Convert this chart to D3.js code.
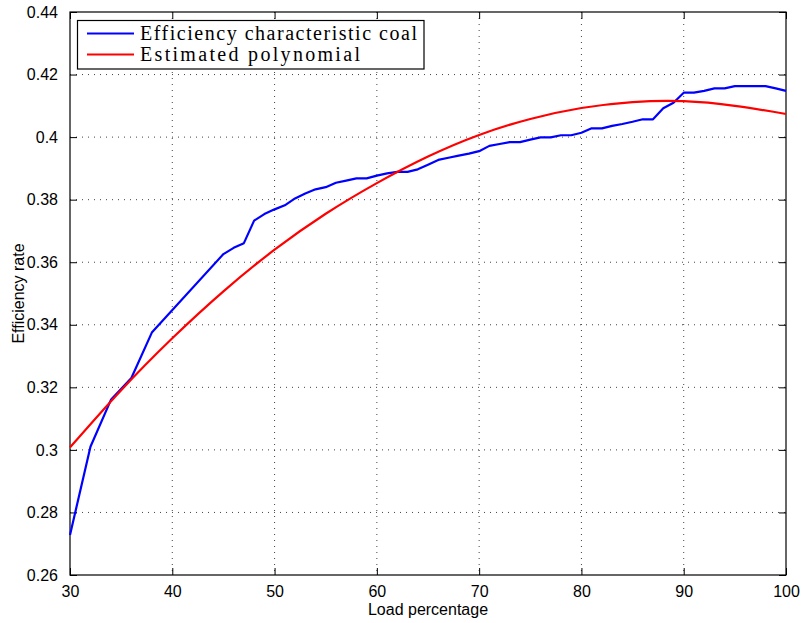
<!DOCTYPE html>
<html>
<head>
<meta charset="utf-8">
<script src="https://cdn.jsdelivr.net/npm/d3@7"></script>
<style>
  html, body { margin: 0; padding: 0; background: #fff; }
  svg { display: block; }
</style>
</head>
<body>
<svg id="chart" width="802" height="623"></svg>
<script>
// ---- Data ----
const loadBlue = [30,32,34,36,38,45,46,47,48,49,50,51,52,53,54,55,56,57,58,59,60,61,62,63,64,65,66,67,68,69,70,71,72,73,74,75,76,77,78,79,80,81,82,83,84,85,86,87,88,89,90,91,92,93,94,95,96,97,98,99,100];
const effBlue = [0.2728,0.3010,0.3160,0.3230,0.3375,0.3626,0.3646,0.3661,0.3733,0.3754,0.3769,0.3782,0.3804,0.3820,0.3833,0.3840,0.3854,0.3861,0.3868,0.3868,0.3877,0.3884,0.3889,0.3889,0.3897,0.3912,0.3927,0.3934,0.3941,0.3947,0.3955,0.3972,0.3978,0.3984,0.3984,0.3992,0.3999,0.3999,0.4006,0.4006,0.4014,0.4028,0.4028,0.4036,0.4042,0.4049,0.4057,0.4057,0.4092,0.4110,0.4142,0.4142,0.4148,0.4156,0.4156,0.4163,0.4163,0.4163,0.4163,0.4156,0.4148];
const loadRed = [30,35,40,45,50,55,60,65,70,75,80,85,90,95,100];
const effRed = [0.3008,0.3191,0.3357,0.3507,0.3640,0.3755,0.3853,0.3938,0.4007,0.4058,0.4093,0.4112,0.4115,0.4100,0.4074];
const xTicks = [30,40,50,60,70,80,90,100];
const yTicks = [0.26,0.28,0.30,0.32,0.34,0.36,0.38,0.40,0.42,0.44];
const yTickLabels = ["0.26","0.28","0.3","0.32","0.34","0.36","0.38","0.4","0.42","0.44"];
const seriesNames = ["Efficiency characteristic coal","Estimated polynomial"];
const seriesColors = ["#0000ff","#ff0000"];

// ---- Layout ----
const L = 70, R = 786, T = 12, B = 575;
const svg = d3.select("#chart");
const x = d3.scaleLinear().domain([30,100]).range([L,R]);
const y = d3.scaleLinear().domain([0.26,0.44]).range([B,T]);
const font = "'Liberation Sans', Arial, Helvetica, sans-serif";

// grid
const grid = svg.append("g");
xTicks.slice(1,-1).forEach(v => {
  grid.append("line").attr("x1",x(v)).attr("x2",x(v)).attr("y1",T).attr("y2",B)
    .attr("stroke","#444").attr("stroke-width",1).attr("stroke-dasharray","1,5");
});
yTicks.slice(1,-1).forEach(v => {
  grid.append("line").attr("x1",L).attr("x2",R).attr("y1",y(v)).attr("y2",y(v))
    .attr("stroke","#444").attr("stroke-width",1).attr("stroke-dasharray","1,5");
});

// axes (ticks inward)
const tl = 7;
const xAxisB = d3.axisBottom(x).tickValues(xTicks).tickSize(-tl).tickPadding(tl+4).tickFormat(d3.format("d"));
const xAxisT = d3.axisTop(x).tickValues(xTicks).tickSize(-tl).tickFormat("");
const yAxisL = d3.axisLeft(y).tickValues(yTicks).tickSize(-tl).tickPadding(tl+5).tickFormat((d,i)=>yTickLabels[i]);
const yAxisR = d3.axisRight(y).tickValues(yTicks).tickSize(-tl).tickFormat("");

function styleAxis(g){
  g.select(".domain").remove();
  g.selectAll("line").attr("stroke","#000").attr("stroke-width",1);
  g.selectAll("text").attr("font-family",font).attr("font-size","16px").attr("fill","#000");
}
svg.append("g").attr("transform",`translate(0,${B})`).call(xAxisB).call(styleAxis);
svg.append("g").attr("transform",`translate(0,${T})`).call(xAxisT).call(styleAxis);
svg.append("g").attr("transform",`translate(${L},0)`).call(yAxisL).call(styleAxis);
svg.append("g").attr("transform",`translate(${R},0)`).call(yAxisR).call(styleAxis);

// frame
svg.append("rect").attr("x",L).attr("y",T).attr("width",R-L).attr("height",B-T)
  .attr("fill","none").attr("stroke","#000").attr("stroke-width",1.2);

// lines
const lineBlue = d3.line().x((d,i)=>x(loadBlue[i])).y(d=>y(d));
const lineRed = d3.line().x((d,i)=>x(loadRed[i])).y(d=>y(d)).curve(d3.curveNatural);
svg.append("path").attr("d",lineBlue(effBlue)).attr("fill","none")
  .attr("stroke",seriesColors[0]).attr("stroke-width",2.2).attr("stroke-linejoin","round");
svg.append("path").attr("d",lineRed(effRed)).attr("fill","none")
  .attr("stroke",seriesColors[1]).attr("stroke-width",2.2).attr("stroke-linejoin","round");

// axis labels
svg.append("text").attr("x",(L+R)/2).attr("y",615).attr("text-anchor","middle")
  .attr("font-family",font).attr("font-size","16px").text("Load percentage");
svg.append("text").attr("transform",`translate(24,${(T+B)/2}) rotate(-90)`).attr("text-anchor","middle")
  .attr("font-family",font).attr("font-size","16px").text("Efficiency rate");

// legend
const lg = svg.append("g");
lg.append("rect").attr("x",77.5).attr("y",20.5).attr("width",346.5).attr("height",48.5)
  .attr("fill","#fff").attr("stroke","#000").attr("stroke-width",1.2);
const ly = [33.5, 54.5];
const lw = [277, 220];
seriesNames.forEach((n,i)=>{
  lg.append("line").attr("x1",87).attr("x2",134).attr("y1",ly[i]).attr("y2",ly[i])
    .attr("stroke",seriesColors[i]).attr("stroke-width",2.2);
  lg.append("text").attr("x",140).attr("y",ly[i]+6.5)
    .attr("font-family","'Liberation Serif','Times New Roman',serif").attr("font-size","20px")
    .attr("textLength",lw[i]).attr("lengthAdjust","spacing")
    .attr("fill","#000").text(n);
});
</script>
</body>
</html>
